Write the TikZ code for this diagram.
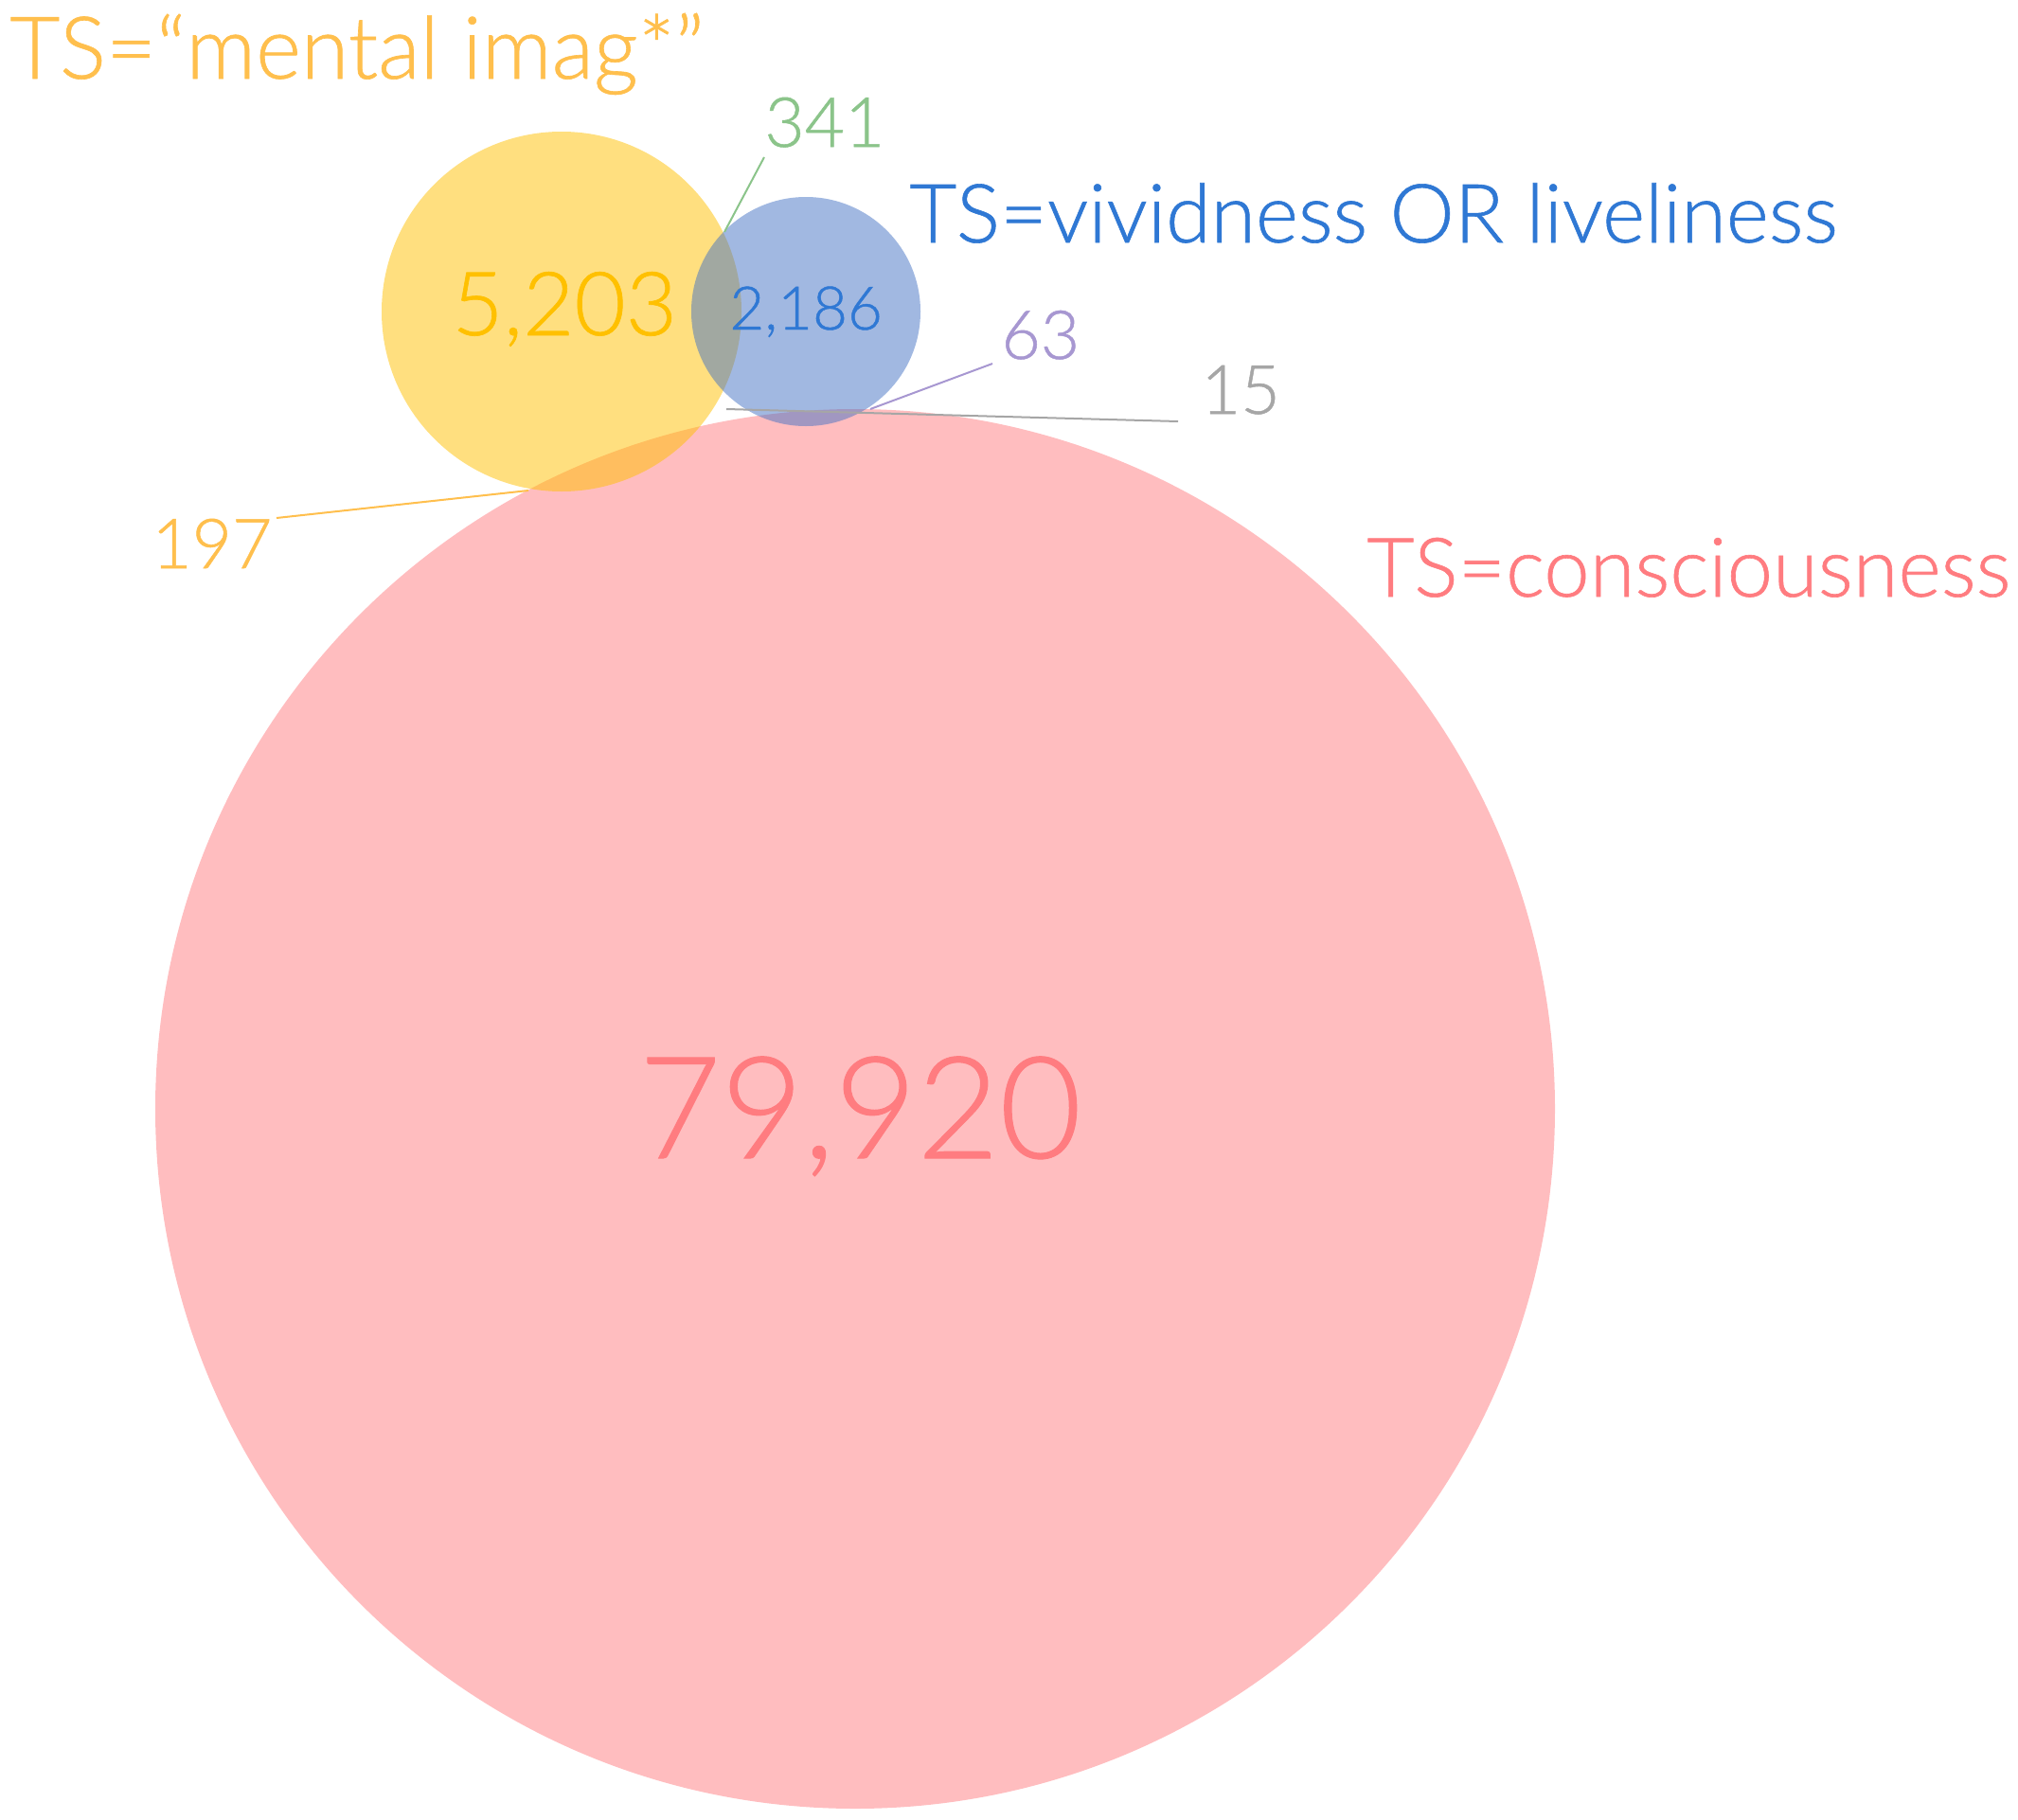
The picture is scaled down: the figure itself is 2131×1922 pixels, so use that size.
\documentclass[tikz,border=0pt]{standalone}
\usepackage{fontspec}
\setmainfont{Lato}[UprightFont=* Light, UprightFeatures={FakeBold=0.7}]
\definecolor{cyel}{HTML}{FFC000}
\definecolor{cblu}{HTML}{4472C4}
\definecolor{cpnk}{HTML}{FF7C80}
\definecolor{tyel}{HTML}{FFBF4D}
\definecolor{tblu}{HTML}{2F78D4}
\definecolor{tgrn}{HTML}{8BC48A}
\definecolor{tpur}{HTML}{A797D1}
\definecolor{tgry}{HTML}{A6A6A6}
\tikzset{
  setcirc/.style={fill opacity=0.5, draw=none},
  lbl/.style={inner sep=0pt, anchor=base west},
  leader/.style={line width=1pt},
}
\newcommand{\fs}[1]{\fontsize{#1}{#1}\selectfont}
\begin{document}
\begin{tikzpicture}[x=0.5pt,y=-0.5pt]
\useasboundingbox (0,0) rectangle (2131,1922);
% circles: pink, yellow, blue
\fill[setcirc, cpnk] (903,1171) circle[radius=739];
\fill[setcirc, cyel] (593,329) circle[radius=190];
\fill[setcirc, cblu] (851,329) circle[radius=121];
% set labels
\node[lbl, text=tyel] (lmi) at (10,83) {\fs{45.8}TS=“mental imag*”};
\node[lbl, text=tblu] (lviv) at (960,256) {\fs{43.1}TS=vividness OR liveliness};
\node[lbl, text=cpnk] (lcon) at (1443,630) {\fs{43.4}TS=consciousness};
% counts
\node[lbl, text=cyel] (n5203) at (477,354) {\fs{46.8}5,203};
\node[lbl, text=tblu] (n2186) at (770,348) {\fs{31.8}2,186};
\node[lbl, text=cpnk] (n79920) at (674,1223) {\fs{75}79,920};
\node[lbl, text=tgrn] (n341) at (807,155) {\fs{36.5}341};
\node[lbl, text=tpur] (n63) at (1057,379) {\fs{35.7}63};
\node[lbl, text=tgry] (n15) at (1268,437) {\fs{36}15};
\node[lbl, text=tyel] (n197) at (160,600) {\fs{36.5}197};
% leader lines
\coordinate (a341) at (807,166);
\coordinate (b341) at (765,245);
\coordinate (a63) at (1048,384);
\coordinate (b63) at (919,432);
\coordinate (a15) at (1244,445);
\coordinate (b15) at (767,432);
\coordinate (a197) at (292,547);
\coordinate (b197) at (558,518);
\draw[leader, tgrn] (a341) -- (b341);
\draw[leader, tpur] (a63) -- (b63);
\draw[leader, tgry] (a15) -- (b15);
\draw[leader, tyel] (a197) -- (b197);
\end{tikzpicture}
\end{document}
